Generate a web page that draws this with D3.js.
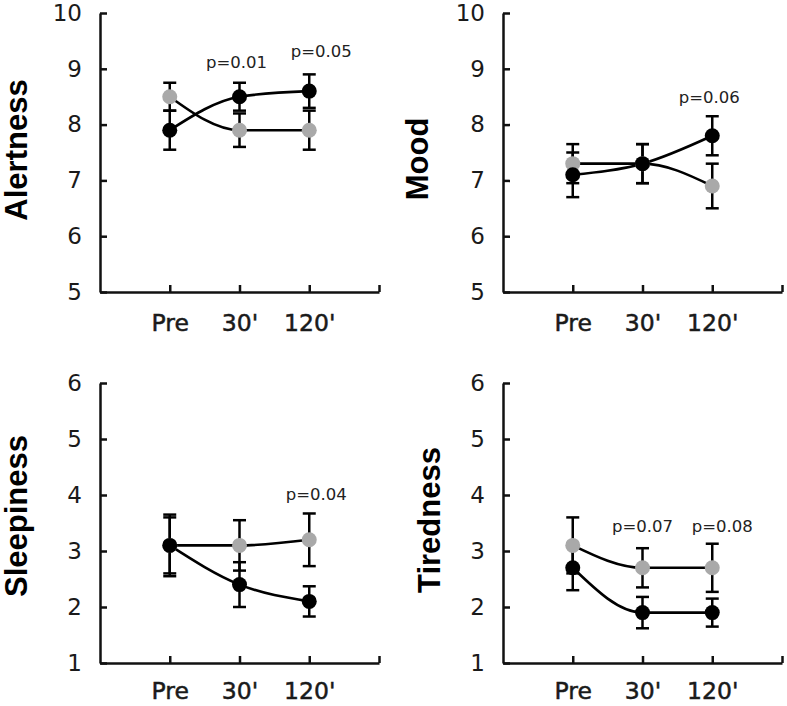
<!DOCTYPE html>
<html><head><meta charset="utf-8">
<script src="https://cdn.jsdelivr.net/npm/d3@7"></script>
<style>
html,body{margin:0;padding:0;background:#fff;}
svg{display:block;}
</style></head>
<body><svg id="chart" width="787" height="706"></svg>
<script>
// ---- data ----
const categories = ["Pre", "30'", "120'"];
const measures = ["Alertness", "Mood", "Sleepiness", "Tiredness"];
const yTicksTop = [5, 6, 7, 8, 9, 10];
const yTicksBottom = [1, 2, 3, 4, 5, 6];

const blackMeans = {
  Alertness: [7.9, 8.5, 8.6],
  Mood: [7.1, 7.3, 7.8],
  Sleepiness: [3.1, 2.4, 2.1],
  Tiredness: [2.7, 1.9, 1.9]
};
const blackErr = {
  Alertness: [0.35, 0.25, 0.3],
  Mood: [0.4, 0.35, 0.35],
  Sleepiness: [0.55, 0.4, 0.27],
  Tiredness: [0.4, 0.28, 0.25]
};
const grayMeans = {
  Alertness: [8.5, 7.9, 7.9],
  Mood: [7.3, 7.3, 6.9],
  Sleepiness: [3.1, 3.1, 3.2],
  Tiredness: [3.1, 2.7, 2.7]
};
const grayErr = {
  Alertness: [0.25, 0.3, 0.35],
  Mood: [0.35, 0.35, 0.4],
  Sleepiness: [0.5, 0.45, 0.47],
  Tiredness: [0.5, 0.35, 0.43]
};
// p-value annotations: measure, category index, text, baseline value
const pMeasure = ["Alertness", "Alertness", "Mood", "Sleepiness", "Tiredness", "Tiredness"];
const pCat = [1, 2, 2, 2, 1, 2];
const pText = ["p=0.01", "p=0.05", "p=0.06", "p=0.04", "p=0.07", "p=0.08"];
const pLevel = [9.01, 9.21, 8.39, 3.91, 3.34, 3.34];
const pShift = [-3, 12, -3, 7, 0, 10];

// ---- layout ----
const panels = [
  {m: "Alertness", ax: 100, top: 13, bottom: 292, ticks: yTicksTop, lx: 27, ly: 150, pad: 22},
  {m: "Mood", ax: 503, top: 13, bottom: 292, ticks: yTicksTop, lx: 428, ly: 159, pad: 22},
  {m: "Sleepiness", ax: 100, top: 383, bottom: 663, ticks: yTicksBottom, lx: 27, ly: 516, pad: 19},
  {m: "Tiredness", ax: 503, top: 383, bottom: 663, ticks: yTicksBottom, lx: 440, ly: 520, pad: 19}
];

const svg = d3.select("#chart");
const tickFont = "DejaVu Sans, Verdana, sans-serif";

panels.forEach(p => {
  const g = svg.append("g");
  const y = d3.scaleLinear()
    .domain([p.ticks[0], p.ticks[p.ticks.length - 1]])
    .range([p.bottom, p.top]);
  const x = d3.scaleLinear().domain([0, 4]).range([p.ax, p.ax + 279]);

  // y axis
  const yAxis = d3.axisLeft(y).tickValues(p.ticks).tickFormat(d3.format("d"))
    .tickSizeInner(-7).tickSizeOuter(0).tickPadding(18);
  const gy = g.append("g").attr("transform", `translate(${p.ax},0)`).call(yAxis);
  gy.selectAll("path.domain").attr("stroke", "#111").attr("stroke-width", 2.5);
  gy.selectAll(".tick line").attr("stroke", "#111").attr("stroke-width", 2.5);
  gy.selectAll(".tick text").attr("font-family", tickFont).attr("font-size", 23)
    .attr("fill", "#1a1a1a");

  // x axis
  const xAxis = d3.axisBottom(x).tickValues([1, 2, 3, 4])
    .tickFormat(i => categories[i - 1] || "")
    .tickSizeInner(-7).tickSizeOuter(0).tickPadding(p.pad);
  const gx = g.append("g").attr("transform", `translate(0,${p.bottom})`).call(xAxis);
  gx.selectAll("path.domain").attr("stroke", "#111").attr("stroke-width", 2.5);
  gx.selectAll(".tick line").attr("stroke", "#111").attr("stroke-width", 2.5);
  gx.selectAll(".tick text").attr("font-family", tickFont).attr("font-size", 23.5)
    .attr("fill", "#1a1a1a").attr("stroke", "#1a1a1a").attr("stroke-width", 0.5);

  // y label
  g.append("text")
    .attr("transform", `translate(${p.lx},${p.ly}) rotate(-90)`)
    .attr("text-anchor", "middle")
    .attr("font-family", "Liberation Sans, Arial, sans-serif")
    .attr("font-weight", "bold").attr("font-size", 31)
    .attr("fill", "#000")
    .text(p.m);

  const series = [
    {means: grayMeans[p.m], err: grayErr[p.m], fill: "#a9a9a9"},
    {means: blackMeans[p.m], err: blackErr[p.m], fill: "#000"}
  ];

  // error bars
  series.forEach(s => {
    s.means.forEach((v, i) => {
      const cx = x(i + 1);
      const eb = g.append("g").attr("stroke", "#000").attr("stroke-width", 2.5);
      eb.append("line").attr("x1", cx).attr("x2", cx)
        .attr("y1", y(v - s.err[i])).attr("y2", y(v + s.err[i]));
      [v - s.err[i], v + s.err[i]].forEach(e => {
        eb.append("line").attr("x1", cx - 6.5).attr("x2", cx + 6.5)
          .attr("y1", y(e)).attr("y2", y(e));
      });
    });
  });

  // lines
  const line = d3.line().x((d, i) => x(i + 1)).y(d => y(d)).curve(d3.curveMonotoneX);
  series.forEach(s => {
    g.append("path").datum(s.means).attr("d", line)
      .attr("fill", "none").attr("stroke", "#000").attr("stroke-width", 2.6);
  });

  // points
  series.forEach(s => {
    g.selectAll(null).data(s.means).enter().append("circle")
      .attr("cx", (d, i) => x(i + 1)).attr("cy", d => y(d)).attr("r", 7.5)
      .attr("fill", s.fill);
  });

  // p-values
  pMeasure.forEach((pm, k) => {
    if (pm !== p.m) return;
    g.append("text")
      .attr("x", x(pCat[k] + 1) + pShift[k]).attr("y", y(pLevel[k]))
      .attr("text-anchor", "middle")
      .attr("font-family", tickFont).attr("font-size", 16.5)
      .attr("fill", "#222")
      .text(pText[k]);
  });
});
</script>
</body></html>
